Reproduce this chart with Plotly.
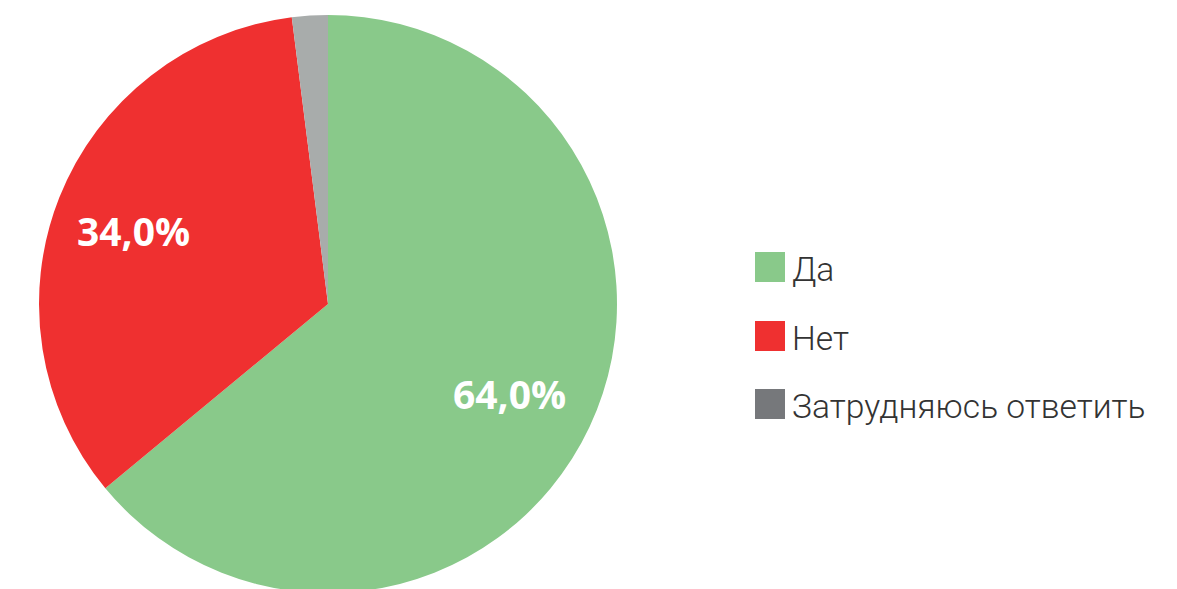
import math
import plotly.graph_objects as go

# ---- data ----
labels = ["Да", "Нет", "Затрудняюсь ответить"]
values = [64.0, 34.0, 2.0]
slice_colors = ["#89C98A", "#EF3030", "#A8ACAB"]
legend_colors = ["#89C98A", "#EF3030", "#76787B"]
show_label = [True, True, False]

W, H = 1177, 593
# pie geometry (pixels)
CX, R = 328, 289
CY = R
dom_x = [0, 2 * CX / W]
dom_y = [0, 2 * R / H]

fig = go.Figure()
fig.add_trace(go.Pie(
    labels=labels,
    values=values,
    sort=False,
    direction="clockwise",
    rotation=0,
    marker=dict(colors=slice_colors, line=dict(width=0)),
    textinfo="none",
    hoverinfo="label+percent",
    showlegend=False,
    domain=dict(x=dom_x, y=dom_y),
))

# slice labels placed at mid-angle of each slice, computed from the values
total = sum(values)
cum = 0.0
for v, show in zip(values, show_label):
    mid = (cum + v / 2) / total * 2 * math.pi
    cum += v
    if not show:
        continue
    rr = 0.71 * R
    px = CX + rr * math.sin(mid) - 4
    py = CY - rr * math.cos(mid) + 17
    txt = f"{v / total * 100:.1f}%".replace(".", ",")
    fig.add_annotation(xref="paper", yref="paper",
                       x=px / W, y=1 - py / H,
                       xanchor="center", yanchor="middle", showarrow=False,
                       text=txt,
                       font=dict(family="Open Sans", size=39, color="white", weight="bold"))

# custom legend (squares + text)
sq = 30
x0 = 755
y_centers = [267, 336, 404]
for lab, col, yc in zip(labels, legend_colors, y_centers):
    fig.add_shape(type="rect", xref="paper", yref="paper",
                  x0=x0 / W, x1=(x0 + sq) / W,
                  y0=1 - (yc + sq / 2) / H, y1=1 - (yc - sq / 2) / H,
                  fillcolor=col, line=dict(width=0))
    fig.add_annotation(xref="paper", yref="paper",
                       x=(x0 + sq + 5) / W, y=1 - (yc + 2) / H,
                       xanchor="left", yanchor="middle", showarrow=False,
                       text=lab,
                       font=dict(family="Roboto", size=33.6, color="#333333", weight=300))

fig.update_layout(
    width=W, height=H,
    margin=dict(l=0, r=0, t=0, b=0),
    paper_bgcolor="white",
    plot_bgcolor="white",
    separators=", ",
)

fig.write_html("out.html",
               config={"displayModeBar": False},
               post_script="document.body.style.margin='0';document.body.style.overflow='hidden';")
